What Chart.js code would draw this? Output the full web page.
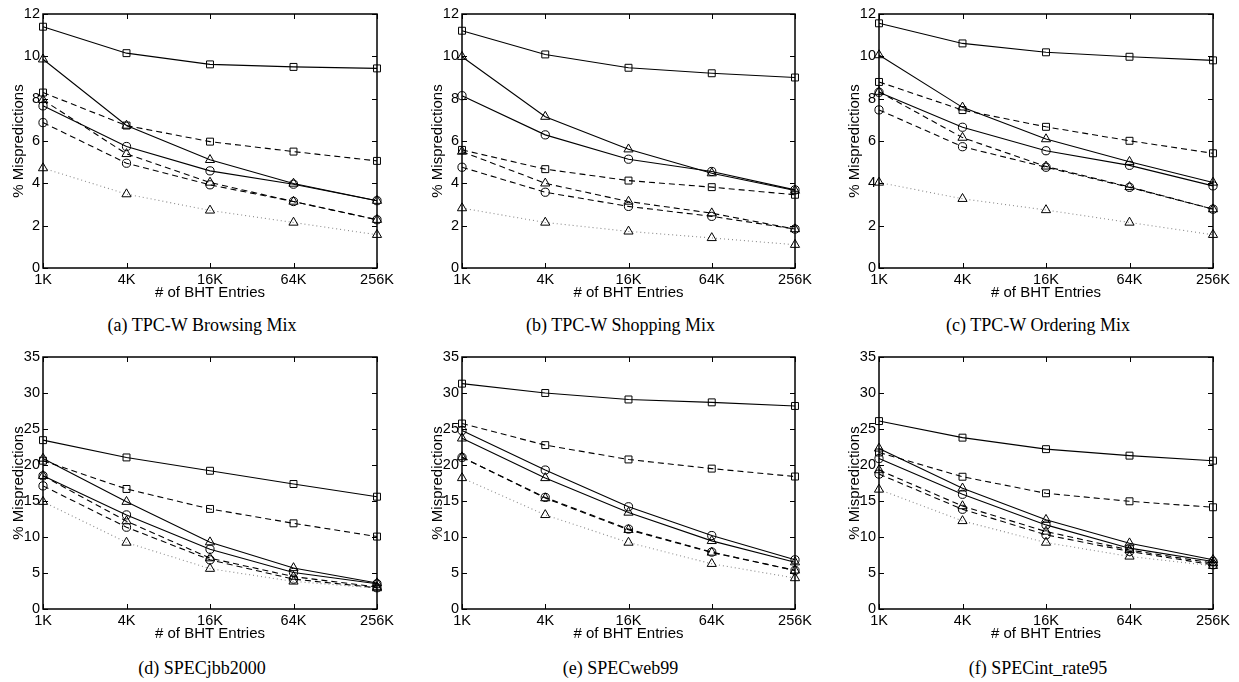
<!DOCTYPE html>
<html>
<head>
<meta charset="utf-8">
<script src="https://cdn.jsdelivr.net/npm/chart.js@4.4.1/dist/chart.umd.min.js"></script>
<style>
  html, body { margin: 0; padding: 0; background: #fff; }
  #page { position: relative; width: 1239px; height: 682px; overflow: hidden; }
  canvas { position: absolute; }
  .cap { position: absolute; width: 300px; text-align: center; font-family: "Liberation Serif", "Times New Roman", serif; font-size: 18px; line-height: 22px; color: #000; }
</style>
</head>
<body>
<div id="page"></div>
<script>
// x categories and y ticks
const bhtEntries = ["1K", "4K", "16K", "64K", "256K"];
const topTicksMax = 12, topTicksStep = 2;
const bottomTicksMax = 35, bottomTicksStep = 5;

// series order in every panel:
// solid square, solid triangle, solid circle,
// dashed square, dashed triangle, dashed circle, dotted triangle
const browsingMix = [
  [11.4, 10.15, 9.62, 9.5, 9.43],
  [9.86, 6.73, 5.11, 3.99, 3.18],
  [7.66, 5.74, 4.59, 3.96, 3.18],
  [8.29, 6.73, 5.97, 5.5, 5.06],
  [7.94, 5.39, 4.04, 3.14, 2.28],
  [6.87, 4.95, 3.93, 3.14, 2.28],
  [4.72, 3.49, 2.72, 2.15, 1.57]
];
const shoppingMix = [
  [11.21, 10.09, 9.46, 9.2, 9.0],
  [9.98, 7.15, 5.61, 4.48, 3.66],
  [8.14, 6.29, 5.14, 4.56, 3.69],
  [5.58, 4.67, 4.13, 3.82, 3.46],
  [5.5, 4.0, 3.14, 2.59, 1.84],
  [4.76, 3.58, 2.91, 2.44, 1.84],
  [2.83, 2.15, 1.73, 1.42, 1.1]
];
const orderingMix = [
  [11.56, 10.61, 10.19, 9.98, 9.81],
  [10.06, 7.59, 6.09, 5.02, 4.04],
  [8.3, 6.65, 5.54, 4.85, 3.88],
  [8.79, 7.46, 6.67, 6.01, 5.42],
  [8.33, 6.16, 4.8, 3.83, 2.78],
  [7.47, 5.73, 4.76, 3.81, 2.78],
  [4.04, 3.27, 2.74, 2.15, 1.57]
];
const specjbb = [
  [23.45, 21.05, 19.2, 17.36, 15.6],
  [20.9, 14.9, 9.28, 5.7, 3.6],
  [18.5, 13.07, 8.3, 5.08, 3.5],
  [20.6, 16.67, 13.9, 11.9, 10.06],
  [18.5, 12.2, 7.06, 4.5, 3.05],
  [17.1, 11.36, 6.83, 4.15, 2.95],
  [14.9, 9.23, 5.6, 3.83, 2.9]
];
const specweb = [
  [31.3, 30.0, 29.1, 28.7, 28.2],
  [23.7, 18.2, 13.4, 9.46, 6.5],
  [24.8, 19.3, 14.2, 10.2, 6.83],
  [25.76, 22.76, 20.77, 19.5, 18.4],
  [21.1, 15.4, 11.0, 7.85, 5.36],
  [21.05, 15.5, 11.1, 7.9, 5.36],
  [18.2, 13.07, 9.23, 6.28, 4.3]
];
const specint = [
  [26.1, 23.8, 22.2, 21.3, 20.6],
  [22.3, 16.76, 12.4, 9.14, 6.83],
  [20.9, 15.93, 11.68, 8.45, 6.6],
  [21.74, 18.37, 16.07, 14.96, 14.13],
  [19.3, 14.3, 10.76, 8.2, 6.37],
  [18.74, 13.85, 10.3, 8.0, 6.14],
  [16.6, 12.23, 9.23, 7.3, 6.0]
];
const captions = [
  "(a) TPC-W Browsing Mix", "(b) TPC-W Shopping Mix", "(c) TPC-W Ordering Mix",
  "(d) SPECjbb2000", "(e) SPECweb99", "(f) SPECint_rate95"
];

// line / marker look for each of the 7 series
const seriesStyle = [
  { dash: [], marker: "rect", line: "#000" },
  { dash: [], marker: "triangle", line: "#000" },
  { dash: [], marker: "circle", line: "#000" },
  { dash: [6, 4], marker: "rect", line: "#000" },
  { dash: [6, 4], marker: "triangle", line: "#000" },
  { dash: [6, 4], marker: "circle", line: "#000" },
  { dash: [1, 3], marker: "triangle", line: "#8a8a8a" }
];
const markerRadius = { rect: 4.9, triangle: 5.3, circle: 4.1 };

// plot rectangles (left, top, width, height) on the page
const panels = [
  { data: browsingMix, max: topTicksMax, step: topTicksStep, x: 43, y: 14, w: 334, h: 254 },
  { data: shoppingMix, max: topTicksMax, step: topTicksStep, x: 462, y: 14, w: 333, h: 254 },
  { data: orderingMix, max: topTicksMax, step: topTicksStep, x: 879, y: 14, w: 334, h: 254 },
  { data: specjbb, max: bottomTicksMax, step: bottomTicksStep, x: 43, y: 357, w: 334, h: 252 },
  { data: specweb, max: bottomTicksMax, step: bottomTicksStep, x: 462, y: 357, w: 333, h: 252 },
  { data: specint, max: bottomTicksMax, step: bottomTicksStep, x: 879, y: 357, w: 334, h: 252 }
];

Chart.defaults.font.family = "'Liberation Sans', Arial, Helvetica, sans-serif";
Chart.defaults.color = "#000";

// matlab-like box with inward ticks on all four sides
const boxPlugin = {
  id: "box",
  afterDatasetsDraw(chart) {
    const { ctx, chartArea: a, scales: { x, y } } = chart;
    const L = Math.round(a.left), R = Math.round(a.right), T = Math.round(a.top), B = Math.round(a.bottom);
    ctx.save();
    ctx.strokeStyle = "#000";
    ctx.lineWidth = 1;
    ctx.beginPath();
    x.ticks.forEach((t, i) => {
      const px = Math.round(x.getPixelForTick(i)) + 0.5;
      ctx.moveTo(px, B); ctx.lineTo(px, B - 5);
      ctx.moveTo(px, T); ctx.lineTo(px, T + 5);
    });
    y.ticks.forEach((t, i) => {
      const py = Math.round(y.getPixelForTick(i)) + 0.5;
      ctx.moveTo(L, py); ctx.lineTo(L + 5, py);
      ctx.moveTo(R, py); ctx.lineTo(R - 5, py);
    });
    ctx.stroke();
    ctx.lineWidth = 1.5;
    ctx.strokeRect(L, T, R - L, B - T);
    ctx.restore();
  }
};

const page = document.getElementById("page");
const padTop = 14, yAxisW = 43, padRight = 25, xAxisH = 34;

panels.forEach((p, k) => {
  const cv = document.createElement("canvas");
  const cw = yAxisW + p.w + padRight, ch = padTop + p.h + xAxisH;
  cv.width = cw; cv.height = ch;
  cv.style.left = (p.x - yAxisW) + "px";
  cv.style.top = (p.y - padTop) + "px";
  cv.style.width = cw + "px"; cv.style.height = ch + "px";
  page.appendChild(cv);

  new Chart(cv.getContext("2d"), {
    type: "line",
    data: {
      labels: bhtEntries,
      datasets: p.data.map((vals, i) => ({
        data: vals,
        borderColor: seriesStyle[i].line,
        borderWidth: 1.1,
        borderDash: seriesStyle[i].dash,
        pointStyle: seriesStyle[i].marker,
        pointRadius: markerRadius[seriesStyle[i].marker],
        pointBorderColor: "#000",
        pointBorderWidth: 1,
        pointBackgroundColor: "rgba(0,0,0,0)",
        tension: 0,
        fill: false,
        clip: false
      }))
    },
    plugins: [boxPlugin],
    options: {
      responsive: false,
      animation: false,
      events: [],
      layout: { padding: { left: 0, top: padTop, right: padRight, bottom: 0 } },
      plugins: { legend: { display: false }, tooltip: { enabled: false } },
      scales: {
        x: {
          type: "category",
          offset: false,
          grid: { display: false, drawTicks: false },
          border: { display: false },
          ticks: { font: { size: 14.5 }, padding: 3, maxRotation: 0, autoSkip: false },
          title: { display: true, text: "# of BHT Entries", font: { size: 15 }, padding: 0 },
          afterFit(s) { s.height = xAxisH; }
        },
        y: {
          min: 0,
          max: p.max,
          grid: { display: false, drawTicks: false },
          border: { display: false },
          ticks: { stepSize: p.step, font: { size: 14.5 }, padding: 3 },
          title: { display: true, text: "% Mispredictions", font: { size: 15 }, padding: { top: 10, bottom: 0 } },
          afterFit(s) { s.width = yAxisW; }
        }
      }
    }
  });

  const cap = document.createElement("div");
  cap.className = "cap";
  cap.textContent = captions[k];
  cap.style.left = (p.x + p.w / 2 - 8 - 150) + "px";
  cap.style.top = (k < 3 ? 314 : 657) + "px";
  page.appendChild(cap);
});
</script>
</body>
</html>
